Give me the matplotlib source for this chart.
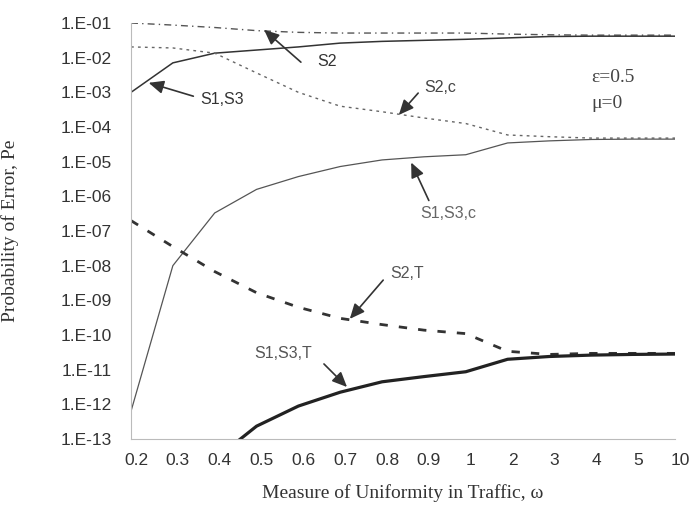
import numpy as np
import matplotlib
matplotlib.use("Agg")
import matplotlib.pyplot as plt
from matplotlib.transforms import ScaledTranslation

# omega categories (equally spaced on the chart)
omega = ["0.2", "0.3", "0.4", "0.5", "0.6", "0.7", "0.8", "0.9",
         "1", "2", "3", "4", "5", "10"]

# log10 of probability of error
s2 = [-1.00, -1.06, -1.13, -1.22, -1.27, -1.29, -1.29, -1.29,
      -1.29, -1.32, -1.34, -1.35, -1.35, -1.35]
s1s3 = [-3.00, -2.15, -1.87, -1.78, -1.69, -1.58, -1.53, -1.50,
        -1.47, -1.43, -1.39, -1.38, -1.38, -1.38]
s2c = [-1.69, -1.72, -1.87, -2.44, -3.00, -3.40, -3.56, -3.74,
       -3.90, -4.23, -4.28, -4.32, -4.32, -4.32]
s1s3c = [-12.2, -8.0, -6.48, -5.80, -5.43, -5.14, -4.95, -4.86,
         -4.80, -4.46, -4.40, -4.36, -4.35, -4.35]
s2t = [-6.70, -7.45, -8.17, -8.78, -9.20, -9.52, -9.70, -9.86,
       -9.96, -10.47, -10.56, -10.53, -10.53, -10.53]
s1s3t = [np.nan, np.nan, -13.59, -12.63, -12.05, -11.65, -11.35, -11.20,
         -11.06, -10.70, -10.62, -10.58, -10.56, -10.55]

yticks = [10.0 ** -k for k in range(1, 14)]
ylabels = ["1.E-%02d" % k for k in range(1, 14)]

fig = plt.figure(figsize=(6.91, 5.09), dpi=100)
ax = fig.add_axes([131 / 691, 1 - 439 / 509, 544 / 691, 416 / 509])

x = np.arange(len(omega))
ax.plot(x, 10.0 ** np.array(s2), color="#555555", lw=1.0, dashes=(5, 3, 1, 3))
ax.plot(x, 10.0 ** np.array(s1s3), color="#333333", lw=1.1)
ax.plot(x, 10.0 ** np.array(s2c), color="#666666", lw=1.0, dashes=(2, 3))
ax.plot(x, 10.0 ** np.array(s1s3c), color="#555555", lw=0.9)
ax.plot(x, 10.0 ** np.array(s2t), color="#333333", lw=2.0, dashes=(3, 4))
ax.plot(x, 10.0 ** np.array(s1s3t), color="#222222", lw=2.3)

ax.set_yscale("log")
ax.set_ylim(1e-13, 1e-1)
ax.set_xlim(0, len(omega) - 1)
ax.set_yticks(yticks)
ax.set_yticklabels(ylabels)
ax.minorticks_off()
ax.set_xticks(x)
ax.set_xticklabels(omega)
ax.tick_params(length=0, labelsize=12.5, colors="#333333")
ax.tick_params(axis="x", pad=10)
ax.tick_params(axis="y", pad=14)
for lab in ax.get_xticklabels():
    lab.set_fontfamily("Liberation Sans")
    lab.set_transform(lab.get_transform() + ScaledTranslation(5 / 100, 0, fig.dpi_scale_trans))
for lab in ax.get_yticklabels():
    lab.set_fontfamily("Liberation Sans")

for side in ["top", "right"]:
    ax.spines[side].set_visible(False)
for side in ["left", "bottom"]:
    ax.spines[side].set_color("#bbbbbb")
    ax.spines[side].set_linewidth(0.8)

ax.set_xlabel("Measure of Uniformity in Traffic, ω", family="Liberation Serif",
              fontsize=14, color="#333333", labelpad=12)
ax.set_ylabel("Probability of Error, Pe", family="Liberation Serif",
              fontsize=14, color="#333333")
ax.yaxis.set_label_coords(-(131 - 19) / 544, 0.5)

# labels with arrows, placed in figure pixels (origin top-left flipped)
H = 509
notes = [
    ("S2", (327, 62), (303, 64), (262, 28), "#333333"),
    ("S1,S3", (222, 100), (196, 97), (146, 82), "#333333"),
    ("S2,c", (440, 87), (420, 91), (397, 117), "#444444"),
    ("S1,S3,c", (448, 213), (430, 203), (410, 160), "#666666"),
    ("S2,T", (407, 273), (385, 278), (348, 321), "#555555"),
    ("S1,S3,T", (283, 353), (322, 362), (349, 389), "#555555"),
]
for txt, tpos, tail, head, col in notes:
    fig.text(tpos[0] / 691, 1 - tpos[1] / H, txt, ha="center", va="center",
             fontsize=11.5, color=col, family="Liberation Sans")
    ax.annotate("", xy=(head[0], H - head[1]), xycoords="figure pixels",
                xytext=(tail[0], H - tail[1]), textcoords="figure pixels",
                arrowprops=dict(arrowstyle="-|>,head_length=0.9,head_width=0.4",
                                color="#333333", lw=1.2))

fig.text(613 / 691, 1 - 77 / H, "ε=0.5", ha="center", va="center",
         fontsize=14, color="#444444", family="Liberation Serif")
fig.text(607 / 691, 1 - 103 / H, "μ=0", ha="center", va="center",
         fontsize=14, color="#444444", family="Liberation Serif")

fig.savefig("out.png", dpi=100)
